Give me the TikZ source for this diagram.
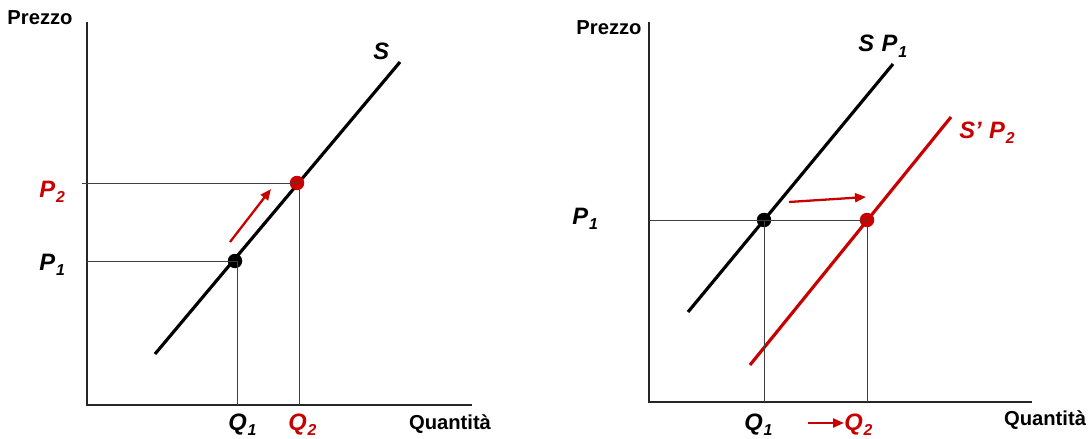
\documentclass[tikz,border=0pt]{standalone}
\usepackage{fontspec}
\setmainfont{Liberation Sans}
\usetikzlibrary{arrows.meta,positioning}
\definecolor{offred}{RGB}{200,0,0}
\newcommand{\lab}[2]{\textbf{\textit{#1\kern0.5pt\raisebox{-0.45ex}{\fontsize{9}{9}\selectfont #2}}}}

\begin{document}
\begin{tikzpicture}[x=0.02cm,y=-0.02cm,
  axis/.style={line width=1.1pt,black!85},
  guide/.style={line width=0.5pt,black!75},
  curve/.style={line width=1.8pt},
  dot/.style={circle,inner sep=0pt,minimum size=0.29cm},
  arr/.style={-{Triangle[length=2.2mm,width=1.8mm]},line width=1.3pt,offred},
  axlab/.style={font=\fontsize{11.5}{13}\selectfont\bfseries,inner sep=0pt},
  vlab/.style={font=\fontsize{13.5}{15}\selectfont,inner sep=0pt,anchor=base west}
]
  \useasboundingbox (0,0) rectangle (1089,439);

  % left panel: movement along the supply curve
  \coordinate (lo) at (87,405);
  \coordinate (ltop) at (87,22);
  \coordinate (lend) at (472,405);
  \draw[axis] (ltop) -- (lo) -- (lend);
  \node[axlab] (lprezzo) at (40,18) {Prezzo};
  \node[axlab] (lquant) at (450,424) {Quantità};

  \coordinate (sa) at (155,354);
  \coordinate (sb) at (400,62);
  \draw[curve] (sa) -- (sb);
  \node[vlab] (ls) at (373,60) {\lab{S}{}};

  \node[dot,fill=black] (la) at (235,261) {};
  \node[dot,fill=offred] (lb) at (297,183) {};
  \coordinate (lp1) at (87,261);
  \coordinate (lp2) at (82,183);
  \coordinate (lq1) at (237,405);
  \coordinate (lq2) at (299,405);
  \draw[guide] (lp1) -- (la.center);
  \draw[guide] (lp2) -- (lb.center);
  \draw[guide] (la.center) -| (lq1);
  \draw[guide] (lb.center) -| (lq2);
  \node[vlab] (lP1) at (39,270) {\lab{P}{1}};
  \node[vlab,offred] (lP2) at (39,197) {\lab{P}{2}};
  \node[vlab] (lQ1) at (228,430) {\lab{Q}{1}};
  \node[vlab,offred] (lQ2) at (288,430) {\lab{Q}{2}};

  \coordinate (lma) at (230,242);
  \coordinate (lmb) at (271,189);
  \draw[arr] (lma) -- (lmb);

  % right panel: shift of the supply curve
  \coordinate (ro) at (649,402);
  \coordinate (rtop) at (649,22);
  \coordinate (rend) at (1032,402);
  \draw[axis] (rtop) -- (ro) -- (rend);
  \node[axlab] (rprezzo) at (609,28) {Prezzo};
  \node[axlab] (rquant) at (1045,420) {Quantità};

  \coordinate (ra) at (688,312);
  \coordinate (rb) at (893,64);
  \coordinate (rc) at (750,365);
  \coordinate (rd) at (951,117);
  \draw[curve] (ra) -- (rb);
  \draw[curve,offred] (rc) -- (rd);
  \node[vlab] (rs) at (858,52) {\lab{S}{}\;\lab{P}{1}};
  \node[vlab,offred] (rs2) at (959,138) {\lab{S’}{}\;\lab{P}{2}};

  \node[dot,fill=black] (rx) at (764,220) {};
  \node[dot,fill=offred] (ry) at (867,220) {};
  \coordinate (rp1) at (649,220);
  \coordinate (rq1) at (764,402);
  \coordinate (rq2) at (867,402);
  \draw[guide] (rp1) -- (ry.center);
  \draw[guide] (rx.center) -- (rq1);
  \draw[guide] (ry.center) -- (rq2);
  \node[vlab] (rP1) at (572,224) {\lab{P}{1}};
  \node[vlab] (rQ1) at (744,430) {\lab{Q}{1}};
  \node[vlab,offred] (rQ2) at (844,430) {\lab{Q}{2}};

  \coordinate (rma) at (789,202);
  \coordinate (rmb) at (866,197);
  \draw[arr] (rma) -- (rmb);
  \coordinate (rna) at (808,423);
  \draw[arr] (rna) -- (rna -| rQ2.west);
\end{tikzpicture}
\end{document}
